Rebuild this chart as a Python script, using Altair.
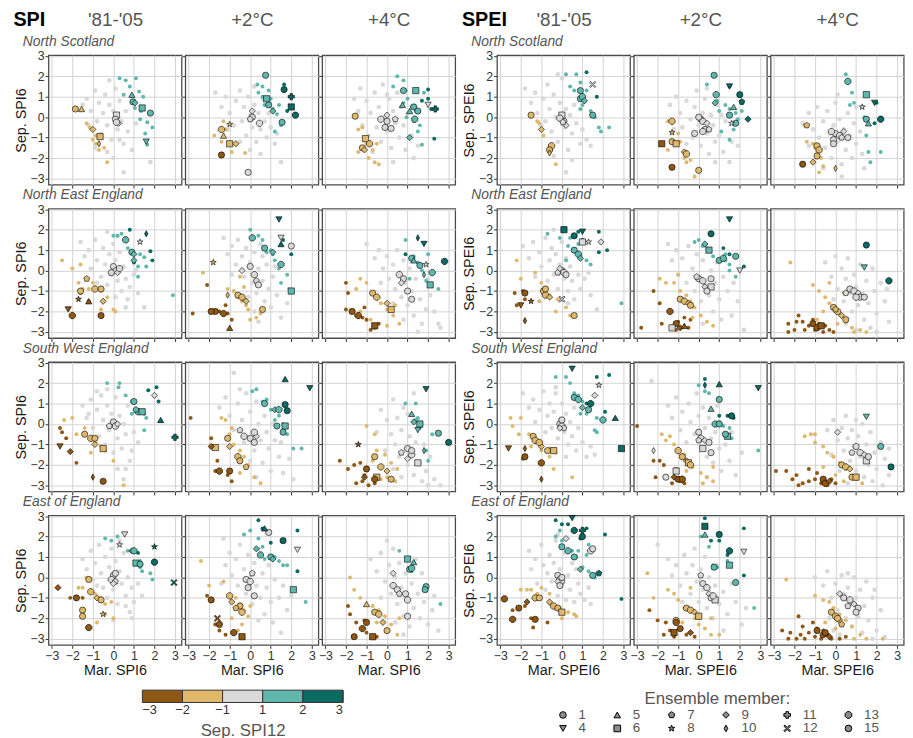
import altair as alt
import pandas as pd

# ---------------- labels / categories ----------------
BLOCKS = ["SPI", "SPEI"]
PERIODS = ["'81-'05", "+2°C", "+4°C"]
REGIONS = ["North Scotland", "North East England", "South West England", "East of England"]
REG_CODES = ["NS", "NEE", "SWE", "EE"]
PER_CODES = ["HIST", "P2", "P4"]
CAT_KEYS = {"B": 0, "T": 1, "G": 2, "L": 3, "D": 4}   # Sep. SPI12 class
CAT_COLORS = ["#8f5714", "#dfb86c", "#d9d9d9", "#5fb7ad", "#0b6b63"]
CAT_EDGES = ["−3", "−2", "−1", "1", "2", "3"]
AXIS_TICKS = [-3, -2, -1, 0, 1, 2, 3]
MEMBER_ORDER = ["1", "4", "5", "6", "7", "8", "9", "10", "11", "12", "13", "15"]

# ---------------- data: dots (x=Mar. index, y=Sep. index) and member markers (member, class, x, y) ----------------
SPI_NS_HIST_DOTS = {
    "G": [(-1.5,0.6),(-1.3,0.9),(-1.1,0.3),(-0.9,1.3),(-0.8,-0.2),(-0.7,0.7),(-0.6,-0.8),(-0.5,0.2),(-0.4,1.1),(-0.3,-0.4),(-0.2,0.6),(-0.1,-1.1),(0.0,0.3),(0.1,1.4),(0.2,-0.6),(0.3,0.8),(0.4,-0.2),(0.5,-1.3),(0.6,0.3),(0.7,-0.7),(0.9,-1.6),(-0.3,-1.7),(0.0,-2.0),(0.3,-1.1),(-0.9,-1.5),(0.5,-2.7),(1.8,-2.2),(-0.2,1.8),(1.1,-0.3),(-1.2,-0.4)],
    "T": [(-1.3,-0.3),(-1.15,-0.5),(-0.85,-0.9),(-0.85,-1.3),(-0.7,-1.6),(-0.45,-1.5),(-0.3,-2.2),(-1.0,-1.1)],
    "L": [(0.3,1.9),(0.6,1.8),(1.1,1.9),(0.8,1.5),(1.25,1.25),(0.5,1.1),(1.05,0.45),(1.35,0.3),(1.3,-0.1),(1.65,-0.25),(1.9,-0.5),(1.55,-0.8),(1.65,-1.35),(1.45,1.0)],
}
SPI_NS_HIST_MARKS = [(1,1,-1.85,0.4),(5,1,-1.55,0.4),(9,1,-1.0,-0.6),(6,1,-0.65,-0.95),(10,1,-0.7,-1.3),(6,2,0.15,0.1),(9,2,0.25,-0.3),(1,2,0.1,-0.1),(13,2,0.15,-0.25),(5,3,0.9,1.1),(1,3,0.95,0.75),(9,3,1.05,0.7),(6,3,1.4,0.45),(15,3,1.8,0.2),(4,3,1.6,-1.2)]

SPI_NS_P2_DOTS = {
    "G": [(-1.7,1.2),(-1.4,0.5),(-1.2,1.0),(-1.0,0.2),(-0.8,-0.4),(-0.7,0.8),(-0.5,1.3),(-0.4,-0.2),(-0.3,0.5),(-0.2,-0.9),(-0.1,1.0),(0.0,0.1),(0.1,-0.5),(0.2,0.6),(0.3,-1.2),(0.4,0.2),(0.5,-0.6),(0.6,0.9),(0.7,-0.2),(0.8,-1.0),(1.0,-0.5),(1.2,-1.3),(-0.5,-1.2),(0.0,-1.6),(1.5,-2.2),(0.9,0.2),(-1.1,-0.6),(0.2,1.5),(0.5,-1.8),(1.3,-0.8)],
    "T": [(-1.75,-0.9),(-1.3,-0.2),(-1.2,-0.6),(-1.4,-1.2),(-1.0,-1.3),(-0.9,-1.7),(-0.25,-1.75),(-0.7,-1.3)],
    "L": [(0.35,1.6),(0.6,1.5),(0.9,1.3),(0.4,1.2),(1.0,0.9),(0.7,0.6),(1.4,0.6),(1.3,0.15),(1.5,-0.4),(1.2,-0.7),(0.6,1.0),(1.1,0.4)],
    "D": [(1.65,1.6),(2.0,1.0),(2.2,0.1),(1.8,0.3)],
}
SPI_NS_P2_MARKS = [(1,3,0.75,2.05),(1,0,-1.4,-1.85),(15,2,-0.1,-2.7),(8,1,-1.0,-0.35),(13,1,-1.4,-0.6),(5,1,-1.3,-0.9),(6,1,-1.0,-1.3),(9,1,-0.7,-1.3),(9,2,0.1,0.3),(1,2,0.1,0.0),(7,2,0.0,-0.1),(13,2,0.45,-0.3),(6,3,0.8,0.9),(1,3,0.9,0.6),(9,3,1.1,0.3),(15,3,1.55,-0.25),(1,4,1.65,1.35),(11,4,2.0,1.0),(6,4,2.0,0.5),(13,4,2.2,0.1)]

SPI_NS_P4_DOTS = {
    "G": [(-1.6,0.9),(-1.4,0.3),(-1.2,-0.4),(-1.0,0.8),(-0.9,-0.9),(-0.8,0.2),(-0.6,1.2),(-0.5,-0.5),(-0.4,0.5),(-0.3,-1.2),(-0.2,1.6),(-0.1,0.0),(0.0,-0.7),(0.1,0.9),(0.2,-1.5),(0.3,0.3),(0.4,-0.3),(0.5,1.2),(0.6,-1.0),(0.7,0.5),(0.8,-0.4),(0.9,-1.6),(1.0,0.2),(1.2,-0.9),(1.3,-2.0),(-0.7,-1.7),(0.3,-2.2),(1.5,-1.4),(-1.3,1.4),(0.0,1.1)],
    "T": [(-1.4,-0.6),(-1.2,-0.5),(-1.0,-1.3),(-0.7,-1.6),(-0.5,-1.3),(-0.9,-2.0),(-0.6,-2.2),(-0.4,-2.3),(-1.4,-1.7)],
    "L": [(0.5,2.0),(0.8,1.8),(0.3,1.5),(0.9,1.3),(1.0,0.9),(0.8,0.7),(1.2,0.5),(1.4,0.3),(0.95,0.0),(1.3,-0.2),(1.6,-0.4),(1.5,-0.7),(1.7,-1.35),(1.8,1.2)],
    "D": [(2.0,1.35),(2.0,0.9),(2.15,0.4),(2.3,-1.05),(1.7,0.8)],
}
SPI_NS_P4_MARKS = [(1,1,-1.55,0.05),(6,1,-1.05,-1.05),(13,1,-0.85,-1.3),(1,1,-1.2,-1.5),(9,1,-1.1,-1.6),(13,2,-0.3,-0.1),(1,2,0.0,-0.2),(15,2,-0.1,-0.5),(1,2,0.2,-0.55),(7,2,0.4,-0.1),(9,2,0.0,0.1),(6,3,1.4,1.3),(1,3,0.8,1.3),(5,3,0.75,0.6),(1,3,1.3,0.5),(5,3,1.1,0.3),(15,3,1.5,0.3),(13,3,1.35,-0.1),(9,3,1.1,-1.0),(4,2,2.0,0.6),(11,4,2.35,0.4)]

SPI_NEE_HIST_DOTS = {
    "G": [(-1.6,1.4),(-1.4,0.7),(-1.2,1.0),(-1.1,0.1),(-0.9,1.5),(-0.8,0.5),(-0.6,-0.3),(-0.5,1.1),(-0.4,0.3),(-0.3,-0.7),(-0.2,0.8),(-0.1,-0.2),(0.0,1.3),(0.1,0.5),(0.2,-0.5),(0.3,0.9),(0.4,-1.0),(0.5,0.2),(0.6,-0.4),(0.7,-1.4),(0.8,-0.8),(1.0,-0.2),(1.2,-1.1),(1.5,-1.8),(0.6,-1.8),(-0.8,-0.6),(0.2,1.7),(-0.3,1.9),(1.1,0.0),(0.1,-1.3)],
    "T": [(-2.5,0.5),(-2.0,0.1),(-1.6,0.3),(-1.7,-0.6),(-1.5,-0.9),(-1.2,-0.9),(-1.0,-0.6),(-0.6,-1.0),(-0.5,-1.5),(-0.3,-1.3),(0.0,-1.9),(-0.6,-1.9),(0.1,-2.0)],
    "B": [(-1.6,-1.1),(-1.2,-1.5)],
    "L": [(0.0,1.7),(0.2,1.7),(0.4,1.8),(0.6,1.6),(1.3,0.8),(1.2,0.2),(1.6,0.2),(1.5,0.65),(0.7,1.1),(1.2,-0.3),(2.9,-1.2)],
    "D": [(0.8,2.0),(1.8,0.95),(1.9,0.5),(1.0,0.4)],
}
SPI_NEE_HIST_MARKS = [(4,0,-2.2,-1.9),(13,0,-2.0,-2.2),(8,0,-1.7,-1.4),(5,0,-1.2,-1.5),(1,0,-0.6,-2.2),(1,1,-1.6,-1.0),(7,1,-1.3,-0.4),(13,1,-0.9,-0.9),(1,1,-0.6,-0.9),(9,1,-0.5,-1.5),(1,2,0.0,0.2),(7,2,0.1,0.0),(9,2,0.2,-0.1),(13,2,0.3,0.1),(15,2,-0.1,-0.1),(1,3,0.9,0.9),(9,3,1.0,0.8),(13,3,0.6,1.5),(8,2,1.3,1.4),(9,3,1.0,0.5),(10,4,1.6,1.8)]

SPI_NEE_P2_DOTS = {
    "G": [(-1.3,1.6),(-1.1,0.8),(-0.9,1.2),(-0.7,0.3),(-0.6,1.5),(-0.4,0.7),(-0.3,-0.3),(-0.2,1.1),(0.0,0.4),(0.1,-0.6),(0.2,0.9),(0.3,-1.1),(0.4,0.1),(0.5,1.3),(0.6,-0.5),(0.7,-1.5),(0.8,0.3),(0.9,-0.9),(1.0,-1.8),(1.1,-0.3),(1.3,-1.2),(1.5,-2.3),(1.8,-1.6),(0.2,-2.0),(-0.9,-0.2),(0.6,0.7),(1.2,0.2),(-0.1,-1.3),(1.9,-0.9),(0.4,-2.5)],
    "T": [(-2.3,-0.1),(-1.1,-0.9),(-0.8,-1.0),(-0.6,-1.3),(-0.4,-1.5),(-0.1,-1.9),(0.0,-2.4),(0.3,-2.3),(-0.5,-0.3),(-0.3,-0.8),(-0.2,-1.7),(0.5,-2.1)],
    "B": [(-2.1,-0.7),(-2.8,-2.1),(-1.5,-2.0),(-1.2,-1.7),(-0.9,-2.4),(-1.1,-2.1)],
    "L": [(0.0,2.0),(0.4,1.7),(0.6,1.5),(1.0,1.0),(0.8,0.9),(1.2,0.5),(1.4,0.1),(1.5,-0.6),(1.8,-0.2),(1.1,0.8)],
    "D": [(1.6,1.5),(2.0,0.8)],
}
SPI_NEE_P2_MARKS = [(8,1,-1.8,0.4),(10,1,-1.1,-1.2),(1,1,-0.6,-1.2),(13,1,-0.4,-1.3),(9,1,-0.2,-1.5),(1,1,0.6,-1.9),(1,0,-1.7,-2.0),(5,0,-1.0,-2.8),(13,0,-1.3,-2.1),(1,0,-1.9,-2.0),(9,2,-0.4,0.0),(1,2,0.0,0.2),(13,2,0.2,-0.2),(7,2,0.3,-0.5),(1,2,0.4,-0.7),(13,3,0.1,1.6),(1,3,0.7,1.1),(9,3,1.1,0.9),(13,3,1.5,0.3),(6,3,2.0,-1.0),(15,2,2.0,1.2),(4,4,1.4,2.5),(4,2,1.5,1.6),(5,4,1.5,1.3)]

SPI_NEE_P4_DOTS = {
    "G": [(-1.0,1.3),(-0.6,0.6),(-0.4,1.0),(-0.2,0.1),(0.0,0.7),(0.1,-0.4),(0.3,0.3),(0.4,-0.9),(0.5,1.0),(0.6,-0.1),(0.7,-1.3),(0.8,0.5),(0.9,-0.6),(1.0,-1.7),(1.1,0.1),(1.2,-1.0),(1.3,-2.2),(1.4,-0.4),(1.6,-1.4),(1.7,-2.6),(1.9,-1.9),(2.1,-1.2),(2.3,-2.0),(2.5,-2.6),(0.3,-1.6),(0.8,-2.4),(1.5,-3.0),(2.6,-2.8),(-0.3,-0.6),(2.0,-0.4)],
    "T": [(-1.3,-0.4),(-1.0,-0.6),(-0.7,-1.1),(-0.5,-1.3),(-0.3,-1.6),(0.0,-1.9),(0.3,-2.2),(0.6,-2.6),(-0.8,-2.4),(-1.3,-2.0),(0.0,-2.7),(-1.5,-0.9),(0.4,-1.7)],
    "B": [(-2.0,-0.6),(-1.9,-1.1),(-2.0,-1.9),(-1.5,-2.2),(-1.2,-2.3),(-1.0,-2.4),(-0.6,-2.8),(-0.4,-2.6),(-1.1,-1.8),(-0.8,-2.9)],
    "L": [(0.9,1.5),(1.3,0.7),(1.5,0.4),(1.7,0.0),(1.9,-0.5),(2.5,-0.9),(2.0,0.8),(1.1,-0.4)],
    "D": [(0.9,0.8)],
}
SPI_NEE_P4_MARKS = [(1,1,-0.7,-1.1),(13,1,-0.5,-1.3),(9,1,0.0,-1.6),(6,1,0.2,-1.9),(1,0,-1.7,-2.0),(13,0,-1.4,-2.2),(6,0,-0.6,-2.7),(13,2,0.6,-0.2),(1,2,0.8,-0.4),(9,2,0.7,-0.6),(1,2,1.0,-1.0),(15,2,1.2,-1.4),(1,3,1.2,0.6),(5,3,1.3,0.5),(1,3,1.6,0.25),(10,3,1.8,-0.2),(6,3,2.1,-0.7),(13,3,2.2,-0.1),(8,2,1.9,0.3),(10,4,1.5,1.6),(4,4,1.8,1.3),(13,4,2.8,0.45)]

SPI_SWE_HIST_DOTS = {
    "G": [(-1.5,0.9),(-1.3,0.3),(-1.1,1.2),(-1.0,-0.2),(-0.8,0.7),(-0.7,-0.6),(-0.6,1.4),(-0.5,0.2),(-0.4,-1.0),(-0.3,0.9),(-0.2,-0.3),(-0.1,0.5),(0.0,-1.4),(0.1,1.3),(0.2,-0.7),(0.3,0.4),(0.4,-1.2),(0.5,0.0),(0.6,-0.5),(0.7,0.9),(0.8,-1.8),(0.9,-1.3),(1.0,-0.4),(-0.8,1.6),(0.2,-2.2),(0.5,-2.7),(-0.3,1.7),(1.2,-0.9),(-1.2,0.5),(0.6,-2.2)],
    "T": [(-2.4,0.2),(-2.0,0.3),(-1.8,-0.5),(-1.4,-0.2),(-0.9,-0.9),(-0.6,-1.1),(-0.4,-1.3),(-1.1,-1.4),(0.0,-1.8),(0.5,-3.0)],
    "B": [(-2.6,-0.2),(-2.5,-0.4),(-2.3,-0.7),(-1.8,-1.9)],
    "L": [(-0.3,2.0),(0.3,2.0),(0.25,1.8),(0.6,1.4),(0.9,1.1),(1.5,0.5),(1.6,0.3),(1.5,-0.3),(0.9,0.5)],
    "D": [(1.7,1.65),(2.1,1.8),(2.2,1.1)],
}
SPI_SWE_HIST_MARKS = [(1,1,-1.4,-0.5),(13,1,-1.1,-0.7),(9,1,-0.9,-1.0),(6,1,-0.5,-1.2),(1,1,-0.9,-0.7),(9,0,-2.1,-1.35),(4,0,-2.6,-1.1),(10,0,-1.0,-2.6),(1,0,-0.5,-2.8),(1,2,0.0,0.1),(13,2,0.1,-0.1),(7,2,-0.2,-0.1),(9,2,0.2,0.0),(1,3,1.0,1.1),(13,3,1.2,0.6),(6,3,1.4,0.6),(7,3,1.1,0.7),(9,2,2.0,1.4),(5,4,2.3,0.2),(11,4,3.0,-0.65)]

SPI_SWE_P2_DOTS = {
    "G": [(-0.8,2.5),(-1.5,0.8),(-1.2,1.3),(-1.0,0.4),(-0.8,-0.3),(-0.6,1.0),(-0.4,0.2),(-0.3,-0.9),(-0.2,1.5),(0.0,0.6),(0.1,-0.4),(0.2,-1.3),(0.3,1.1),(0.4,0.0),(0.5,-0.8),(0.6,-1.9),(0.7,0.4),(0.8,-0.4),(0.9,-1.2),(1.0,-2.3),(1.1,0.0),(1.2,-0.8),(1.4,-1.6),(1.6,-2.4),(1.9,-1.7),(2.1,-2.7),(0.3,-2.6),(-0.5,1.7),(1.5,-0.9),(0.0,-1.8)],
    "T": [(-0.9,-0.2),(-1.4,0.3),(-1.0,-0.5),(-0.8,-1.0),(-0.5,-1.3),(-0.3,-1.6),(-0.1,-2.0),(0.2,-2.6),(0.5,-2.9),(-0.5,-2.4),(-1.2,0.2)],
    "B": [(-2.9,0.3),(-1.9,-0.7),(-1.6,-1.8),(-1.7,-2.3),(-1.1,-2.5),(-0.9,-2.8)],
    "L": [(0.1,1.6),(0.3,1.7),(0.8,1.2),(0.6,1.1),(1.0,0.7),(1.4,0.4),(1.6,0.0),(1.8,-0.5),(2.1,-1.2),(2.5,-1.2),(1.2,0.2)],
    "D": [(1.7,0.95),(1.8,0.65)],
}
SPI_SWE_P2_MARKS = [(13,2,-0.3,-0.6),(1,2,0.0,-0.7),(15,2,0.2,-0.9),(9,2,0.3,-0.6),(7,2,-0.5,-0.3),(13,2,0.2,-0.4),(1,1,-1.1,-0.7),(9,1,-1.0,-1.1),(13,1,-0.6,-1.6),(1,1,-0.5,-1.8),(6,1,-1.7,-1.15),(7,1,-0.2,-2.1),(9,0,-1.9,-1.1),(1,0,-1.0,-2.3),(13,0,-1.5,-2.3),(1,3,0.7,1.0),(9,3,1.2,0.7),(13,3,1.4,0.7),(1,3,1.3,-0.1),(6,3,1.7,-0.1),(15,3,1.6,-0.4),(5,4,1.7,2.2),(4,4,2.9,1.75),(1,4,1.7,0.95),(15,4,1.8,0.65)]

SPI_SWE_P4_DOTS = {
    "G": [(-0.3,0.7),(0.0,0.2),(0.2,-0.5),(0.3,1.2),(0.4,-1.0),(0.5,0.3),(0.6,-1.6),(0.7,-0.3),(0.8,0.8),(0.9,-1.2),(1.0,-2.0),(1.1,-0.6),(1.2,-1.5),(1.3,-2.5),(1.4,-0.9),(1.5,0.2),(1.6,-1.9),(1.7,-2.8),(1.9,-2.3),(2.1,-1.6),(2.3,-2.7),(2.6,-3.0),(0.3,-2.2),(0.7,-2.6),(-0.5,-0.4),(1.0,0.5),(2.0,-3.0),(1.8,-1.0),(-0.1,-1.3),(1.3,1.5)],
    "T": [(-1.0,-0.1),(-0.6,-0.5),(-0.5,-1.3),(-0.1,-1.5),(0.2,-1.9),(0.5,-2.2),(0.0,-2.6),(-0.3,-2.7),(0.4,-2.8),(-0.7,-1.8)],
    "B": [(-2.3,-1.8),(-1.9,-2.2),(-1.6,-2.0),(-1.3,-1.9),(-1.2,-2.8),(-0.9,-3.0),(-0.6,-2.9),(-1.1,-2.5),(-0.5,-2.6),(-1.5,-2.9)],
    "L": [(0.9,1.0),(1.4,1.0),(1.5,0.3),(1.6,-0.2),(1.9,-1.3),(2.0,-1.8),(2.2,-0.5),(1.4,0.2)],
}
SPI_SWE_P4_MARKS = [(1,2,1.0,-1.2),(13,2,1.2,-1.5),(9,2,1.0,-1.7),(6,2,1.5,-1.9),(1,2,1.2,-1.3),(7,2,0.7,-1.4),(1,1,-0.6,-1.6),(13,1,-0.3,-2.1),(9,1,0.0,-2.3),(1,1,0.2,-2.7),(6,1,-0.5,-2.6),(8,0,-1.4,-1.0),(1,0,-1.0,-2.2),(9,0,-1.1,-2.6),(13,0,-0.6,-2.7),(5,3,1.2,0.5),(9,3,1.3,0.1),(6,3,1.6,0.0),(4,3,1.5,-0.3),(1,3,2.5,-0.45),(10,3,1.8,-1.3),(4,4,1.9,1.7),(1,4,3.0,-0.9)]

SPI_EE_HIST_DOTS = {
    "G": [(-1.5,0.9),(-1.3,0.4),(-1.1,1.3),(-1.0,-0.1),(-0.9,0.7),(-0.7,1.6),(-0.6,0.2),(-0.5,-0.5),(-0.4,1.0),(-0.3,-1.0),(-0.2,0.5),(-0.1,1.4),(0.0,-0.6),(0.1,0.8),(0.2,-1.3),(0.3,0.3),(0.4,-0.3),(0.5,1.2),(0.6,-0.9),(0.7,0.0),(0.8,-1.7),(0.9,-0.5),(1.0,-1.2),(1.2,-0.3),(0.0,-2.1),(0.9,-2.0),(-0.8,-0.4),(0.3,1.8),(1.4,-0.9),(0.6,-1.4)],
    "T": [(-1.3,0.0),(-1.5,-0.5),(-0.9,-0.8),(-0.6,-1.0),(-0.4,-1.3),(-0.4,-1.8),(-0.8,-2.2),(-0.1,-1.2),(-1.7,-0.5),(0.0,-2.0)],
    "B": [(-2.1,-1.0),(-1.5,-1.0)],
    "L": [(-0.4,1.9),(-0.1,1.8),(0.2,2.0),(0.7,1.3),(1.3,0.8),(1.3,0.5),(1.8,0.2),(1.9,-0.1),(1.4,0.3)],
    "D": [(1.2,1.2)],
}
SPI_EE_HIST_MARKS = [(1,1,-1.2,-0.1),(13,1,-1.1,-0.7),(9,1,-0.8,-1.0),(1,1,-0.6,-1.1),(8,1,-0.5,-1.8),(15,1,-1.5,-1.6),(1,1,-1.5,-1.9),(9,0,-2.7,-0.5),(1,0,-1.8,-1.0),(13,0,-1.2,-2.45),(1,2,0.0,0.1),(13,2,-0.1,-0.1),(7,2,0.1,-0.2),(1,2,0.1,0.2),(9,2,0.0,-0.3),(9,3,0.9,1.3),(13,3,1.0,1.3),(6,3,1.1,0.7),(1,3,1.3,0.65),(4,2,0.55,2.1),(8,2,0.3,1.6),(8,4,2.0,1.5),(13,4,2.0,0.75),(12,4,2.95,-0.25)]

SPI_EE_P2_DOTS = {
    "G": [(-1.3,1.9),(-1.2,0.6),(-1.0,1.2),(-0.9,0.1),(-0.7,0.9),(-0.6,-0.4),(-0.5,1.6),(-0.3,0.4),(-0.2,-0.8),(-0.1,1.1),(0.0,0.0),(0.1,-1.3),(0.2,0.7),(0.3,-0.4),(0.4,1.4),(0.5,-1.0),(0.6,0.2),(0.7,-1.8),(0.8,-0.5),(0.9,0.6),(1.0,-1.2),(1.2,-0.1),(1.4,-1.0),(1.6,-0.4),(1.8,-1.6),(1.5,-2.7),(-1.4,-0.3),(0.4,-2.1),(1.1,-2.2),(2.0,-0.9)],
    "T": [(-2.4,0.8),(-2.0,-0.4),(-1.3,-0.2),(-0.7,-1.0),(-0.5,-1.3),(-0.3,-1.6),(-0.1,-1.9),(-0.4,-2.3),(-0.9,-2.0),(0.0,-1.4),(-0.6,-2.6)],
    "B": [(-2.1,-0.9),(-1.5,-2.6),(-1.2,-2.8),(-1.7,-2.3)],
    "L": [(-0.3,2.1),(0.0,2.3),(0.4,1.9),(0.6,1.5),(1.2,1.0),(1.4,0.8),(1.6,0.6),(1.8,0.6),(2.7,-1.2),(0.7,0.9)],
    "D": [(0.4,2.8),(1.0,1.7),(0.6,2.4),(2.3,2.3),(2.3,0.3)],
}
SPI_EE_P2_MARKS = [(1,2,-0.2,-0.1),(13,2,0.0,-0.2),(7,2,0.1,0.2),(1,2,-0.1,-0.5),(15,2,0.2,-0.9),(13,1,-1.0,-0.9),(9,1,-0.9,-1.2),(1,1,-0.5,-1.4),(13,1,-0.4,-1.7),(7,1,-0.7,-1.5),(1,0,-1.9,-1.1),(12,0,-1.6,-2.0),(1,0,-1.5,-2.3),(13,0,-0.8,-2.7),(6,0,-0.4,-2.9),(9,3,0.3,1.4),(13,3,0.5,1.1),(1,3,1.0,1.0),(9,3,1.1,0.9),(15,2,0.9,2.2),(6,3,2.1,-0.6),(5,4,0.7,2.4),(1,4,1.6,1.8),(4,2,2.3,1.35)]

SPI_EE_P4_DOTS = {
    "G": [(-0.8,0.9),(-0.5,0.3),(-0.3,1.2),(-0.1,-0.2),(0.1,0.6),(0.2,-0.8),(0.3,1.4),(0.4,0.0),(0.5,-1.3),(0.6,0.7),(0.7,-0.5),(0.8,-1.9),(0.9,0.2),(1.0,-1.0),(1.1,-2.4),(1.2,-0.3),(1.3,-1.5),(1.4,0.9),(1.5,-0.8),(1.6,-2.0),(1.8,-1.2),(2.0,-2.3),(2.2,-1.6),(2.5,-2.6),(0.4,-2.2),(-0.3,-1.0),(0.8,-2.8),(1.7,0.2),(0.0,1.8),(2.3,-0.9)],
    "T": [(-1.8,0.0),(-1.6,-0.6),(-1.3,-1.0),(-0.7,-1.4),(-0.4,-1.6),(-0.1,-1.9),(0.2,-2.3),(0.5,-2.8),(0.0,-2.6),(-0.5,-2.2),(0.6,-2.0)],
    "B": [(-1.9,-1.4),(-1.8,-1.8),(-1.5,-2.2),(-1.0,-2.7),(-0.5,-2.9),(-1.1,-2.1)],
    "L": [(0.6,1.3),(1.0,0.9),(1.1,0.4),(1.3,0.7),(1.8,-0.6),(2.6,-1.3),(1.2,0.3)],
}
SPI_EE_P4_MARKS = [(13,2,0.3,-0.4),(1,2,0.5,-0.6),(7,2,0.6,-0.8),(13,2,1.0,-1.1),(1,2,1.0,-1.9),(15,2,0.9,-0.8),(9,2,0.3,0.2),(5,1,-1.0,-1.3),(1,1,-0.6,-1.7),(13,1,-0.4,-1.8),(9,1,-0.2,-2.2),(1,1,0.0,-2.6),(1,0,-1.0,-2.2),(6,0,-0.7,-2.9),(13,0,-1.2,-2.5),(1,0,-1.6,-2.9),(6,3,1.0,0.9),(1,3,1.1,0.4),(13,3,1.2,0.45),(5,3,1.3,0.75),(1,3,1.9,-0.45),(15,3,1.85,-0.6)]

SPEI_NS_HIST_DOTS = {
    "G": [(-1.8,1.4),(-1.5,0.7),(-1.3,1.2),(-1.2,0.2),(-1.0,-0.4),(-0.9,0.9),(-0.7,1.6),(-0.6,0.4),(-0.5,-0.7),(-0.4,1.1),(-0.3,0.0),(-0.2,-1.2),(-0.1,0.7),(0.0,1.9),(0.1,-0.5),(0.2,0.4),(0.3,-1.6),(0.4,0.1),(0.5,-0.8),(0.6,0.6),(0.7,-0.3),(0.9,-1.3),(1.0,-0.6),(1.2,-1.1),(-0.4,-1.9),(0.2,-2.7),(1.4,-1.4),(-0.8,-0.2),(0.5,-2.1),(-0.2,2.1)],
    "T": [(-1.1,-0.3),(-1.0,-0.6),(-0.9,-0.9),(-0.6,-1.4),(-0.5,-1.6),(-0.3,-2.3),(-1.2,-0.2)],
    "L": [(0.2,2.1),(0.7,2.1),(0.9,1.7),(0.4,1.5),(0.6,1.3),(1.2,1.3),(1.0,0.6),(1.4,0.3),(1.6,0.0),(2.3,-0.5),(1.8,-0.5),(1.9,-0.7),(0.9,0.4)],
    "D": [(1.2,2.2),(1.7,1.0)],
}
SPEI_NS_HIST_MARKS = [(1,1,-1.5,0.1),(9,1,-1.0,-0.6),(13,1,-0.5,-1.4),(1,1,-0.6,-1.6),(10,1,-0.6,-1.75),(6,2,0.0,0.1),(1,2,0.1,-0.2),(9,2,0.2,-0.4),(13,2,-0.1,-0.05),(7,2,0.05,-0.25),(1,3,0.9,0.9),(13,3,1.0,1.0),(9,3,1.1,0.8),(1,3,1.5,0.1),(15,3,0.9,1.3),(12,2,1.5,1.6)]

SPEI_NS_P2_DOTS = {
    "G": [(-1.4,0.6),(-1.1,1.0),(-0.9,0.2),(-0.8,-0.5),(-0.6,0.8),(-0.4,-0.1),(-0.3,-1.0),(-0.2,0.5),(-0.1,1.3),(0.0,-0.4),(0.1,-1.4),(0.2,0.2),(0.3,0.9),(0.4,-0.8),(0.5,-1.8),(0.6,0.1),(0.7,-0.4),(0.8,-1.2),(0.9,0.6),(1.0,-0.9),(1.2,-1.7),(1.3,-0.2),(1.6,-1.2),(1.9,-1.4),(0.8,-2.2),(-0.6,-1.3),(1.5,-2.2),(-1.2,-0.6),(0.4,1.4),(1.1,0.1)],
    "T": [(-1.5,-0.2),(-1.0,-0.8),(-1.2,-1.2),(-1.5,-1.6),(-0.9,-1.2),(-0.6,-1.7),(-0.4,-2.1),(-0.6,-2.2),(-0.2,-2.9),(-0.7,-2.0)],
    "L": [(0.4,1.6),(0.9,0.8),(1.0,0.3),(1.3,0.6),(1.5,0.4),(1.8,0.2),(1.9,-0.1),(1.7,-0.6),(1.5,-1.1),(1.1,-0.7),(2.1,0.3)],
    "D": [(1.5,1.5),(2.1,0.7)],
}
SPEI_NS_P2_MARKS = [(1,2,0.1,-0.1),(13,2,0.2,-0.2),(9,2,0.4,-0.3),(1,2,0.3,-0.6),(7,2,0.5,-0.6),(13,2,0.2,-0.7),(15,2,0.0,0.0),(1,2,-0.2,-0.8),(13,1,-1.3,-0.2),(8,1,-1.3,-0.75),(1,1,-1.3,-1.2),(6,1,-1.1,-1.3),(9,1,-0.7,-1.7),(13,1,-0.6,-1.8),(1,1,0.0,-2.6),(6,0,-1.8,-1.3),(1,0,-1.3,-2.45),(1,3,0.75,2.05),(13,3,0.85,1.1),(9,3,0.8,0.7),(1,3,1.5,0.1),(5,3,1.7,0.5),(15,3,1.8,-0.3),(8,2,1.6,-0.3),(4,4,1.5,1.5),(1,4,2.0,1.1),(7,4,2.1,0.75),(9,4,2.4,-0.1)]

SPEI_NS_P4_DOTS = {
    "G": [(-1.6,-0.3),(-1.3,0.2),(-1.1,-0.6),(-0.9,0.5),(-0.8,-1.0),(-0.6,-0.2),(-0.5,-1.5),(-0.4,0.3),(-0.3,-0.8),(-0.2,-2.0),(-0.1,-0.4),(0.0,0.7),(0.1,-1.2),(0.2,-0.1),(0.3,-2.3),(0.4,-0.6),(0.5,-1.6),(0.6,0.2),(0.7,-0.9),(0.8,-2.0),(0.9,-0.3),(1.0,-1.3),(1.2,-0.7),(1.3,-1.8),(0.3,-2.9),(-0.6,-2.5),(1.4,-2.5),(0.1,1.1),(-1.3,-1.4),(1.0,0.5)],
    "T": [(-1.4,-1.2),(-1.0,-1.5),(-0.9,-1.8),(-0.7,-2.0),(-0.6,-2.4),(-0.8,-2.7),(-1.1,-1.3),(-1.5,-0.4)],
    "L": [(0.5,2.1),(0.8,1.2),(0.9,0.7),(0.7,0.6),(1.3,0.5),(1.4,0.0),(1.5,-0.9),(1.6,-1.7),(1.7,-2.2),(2.2,-1.7)],
    "D": [(2.0,0.7),(1.9,-0.3)],
}
SPEI_NS_P4_MARKS = [(1,2,0.0,-0.8),(13,2,0.2,-0.9),(9,2,0.4,-0.7),(1,2,-0.1,-1.1),(7,2,0.3,-1.0),(13,2,-0.2,-0.7),(15,2,0.6,-1.0),(1,2,-0.1,-1.3),(7,1,-1.4,-0.4),(1,1,-0.9,-1.4),(13,1,-0.8,-1.6),(1,1,-0.9,-1.9),(9,1,-1.1,-2.2),(10,1,0.0,-2.5),(1,0,-1.6,-2.3),(13,3,0.6,1.75),(6,3,1.5,1.1),(1,3,1.5,-0.1),(5,3,1.6,-0.3),(8,2,1.3,0.5),(4,4,1.9,0.7),(13,4,2.2,-0.1)]

SPEI_NEE_HIST_DOTS = {
    "G": [(-1.9,1.2),(-1.6,0.6),(-1.4,1.4),(-1.3,-0.3),(-1.1,0.9),(-1.0,0.2),(-0.8,1.6),(-0.7,-0.5),(-0.6,0.5),(-0.5,1.1),(-0.4,-0.2),(-0.3,0.8),(-0.2,-0.9),(-0.1,0.3),(0.0,1.4),(0.1,-0.4),(0.2,0.6),(0.3,-1.0),(0.4,0.2),(0.5,-0.5),(0.6,-1.4),(0.8,-0.2),(0.9,-0.9),(1.1,-0.4),(1.4,-1.2),(1.7,-1.9),(0.3,-1.6),(-0.9,-1.0),(-0.4,2.0),(1.3,-0.1)],
    "T": [(-2.2,0.5),(-2.0,-0.4),(-1.3,-0.1),(-1.0,-0.6),(-0.9,-1.0),(-0.6,-1.2),(-0.2,-1.4),(-0.3,-2.0),(0.4,-2.2),(-1.1,-1.5),(0.2,-1.8)],
    "B": [(-2.3,-1.1),(-1.9,-1.0),(-1.8,-1.4),(-2.2,-1.7)],
    "L": [(-0.7,1.8),(-0.1,1.6),(0.3,1.2),(0.6,1.0),(0.9,0.6),(1.2,0.5),(1.4,0.3),(0.2,0.5),(0.8,1.3),(2.9,-1.6),(0.4,1.6)],
    "D": [(0.8,1.9),(1.8,1.9),(2.2,1.0),(1.8,0.9),(1.0,1.5)],
}
SPEI_NEE_HIST_MARKS = [(1,2,0.0,0.0),(13,2,0.1,-0.1),(7,2,-0.2,-0.1),(1,2,0.2,-0.2),(9,2,-0.1,0.1),(1,1,-0.9,-1.0),(13,1,-0.8,-1.2),(9,1,-0.6,-1.3),(1,1,-0.8,-0.9),(12,2,0.0,-1.4),(1,1,0.6,-2.2),(1,0,-1.8,-1.1),(4,0,-2.0,-1.7),(8,0,-1.5,-1.5),(10,0,-1.8,-2.45),(1,3,0.6,1.0),(13,3,0.8,0.8),(9,3,0.9,0.6),(8,2,1.3,1.4),(6,2,1.0,1.4),(6,4,0.1,2.0),(1,4,0.6,1.7),(4,4,1.0,1.9),(9,2,1.9,1.4)]

SPEI_NEE_P2_DOTS = {
    "G": [(-1.5,1.3),(-1.3,0.5),(-1.1,1.0),(-1.0,-0.2),(-0.8,0.6),(-0.6,-0.6),(-0.5,1.2),(-0.3,0.1),(-0.2,-1.0),(-0.1,0.8),(0.0,-0.3),(0.1,-1.5),(0.2,0.5),(0.3,-0.7),(0.4,1.1),(0.5,-1.2),(0.6,0.0),(0.7,-2.0),(0.8,-0.6),(0.9,0.4),(1.0,-1.4),(1.2,-0.3),(1.4,-1.0),(1.6,-2.2),(1.9,-1.5),(2.2,-2.9),(1.1,-2.4),(-0.7,-1.4),(1.7,-0.6),(0.2,-2.6)],
    "T": [(-1.9,-0.4),(-1.6,-0.6),(-1.2,-0.6),(-0.9,-1.0),(-0.6,-1.2),(-0.4,-1.5),(-0.2,-1.8),(0.1,-2.2),(0.4,-2.5),(0.7,-2.7),(-0.3,-2.3),(-1.0,-0.2)],
    "B": [(-2.8,-2.8),(-2.2,-1.0),(-1.9,-1.6),(-1.8,-2.6),(-1.0,-2.5),(-0.5,-2.8),(-0.7,-2.3),(-1.1,-2.9),(-0.4,-2.4)],
    "L": [(-0.2,1.4),(0.0,1.5),(0.2,1.2),(0.7,0.7),(1.3,0.5),(1.5,0.3),(1.5,0.0),(1.8,-0.3),(1.3,0.8)],
    "D": [(1.2,1.1),(1.5,0.8),(2.2,0.2)],
}
SPEI_NEE_P2_MARKS = [(1,2,0.0,-0.4),(13,2,0.2,-0.5),(9,2,0.3,-0.8),(1,2,0.6,-0.4),(6,2,0.6,-0.8),(15,2,0.4,-1.0),(7,2,-0.1,-0.3),(1,1,-0.9,-1.4),(13,1,-0.7,-1.5),(9,1,-0.5,-1.6),(1,1,-0.4,-1.7),(13,0,-1.4,-2.0),(1,0,-1.1,-2.6),(9,0,-0.9,-2.8),(5,0,-0.7,-2.7),(6,2,-1.3,-2.8),(9,3,0.3,1.3),(6,3,0.5,1.0),(1,3,1.0,0.5),(13,3,1.2,0.6),(15,3,1.8,0.7),(4,2,2.0,0.0),(1,4,0.6,1.8),(4,4,1.5,2.5)]

SPEI_NEE_P4_DOTS = {
    "G": [(-0.5,0.4),(-0.2,-0.3),(0.0,0.7),(0.1,-0.9),(0.3,0.1),(0.4,-1.5),(0.5,-0.4),(0.6,0.6),(0.7,-1.1),(0.8,-2.0),(0.9,-0.2),(1.0,-0.8),(1.1,-1.7),(1.2,0.3),(1.3,-1.1),(1.4,-2.4),(1.5,-0.5),(1.6,-1.6),(1.7,-2.8),(1.9,-1.0),(2.0,-2.1),(2.2,-0.6),(2.4,-1.5),(2.6,-2.5),(0.5,-2.6),(1.0,-2.9),(2.0,-3.0),(2.5,-0.9),(-0.1,-1.4),(1.8,0.1)],
    "T": [(-1.1,-0.7),(-0.8,-1.0),(-0.5,-1.3),(-0.3,-1.6),(0.0,-1.9),(0.3,-2.2),(0.5,-2.5),(0.8,-2.8),(1.2,-2.9),(1.5,-3.0),(-0.6,-2.0),(0.1,-2.6),(-2.2,0.4),(0.4,-1.1),(-0.3,-0.6),(-0.9,-2.4),(0.9,-3.0)],
    "B": [(-2.3,-2.6),(-2.0,-2.9),(-1.6,-2.5),(-1.3,-2.7),(-1.0,-2.9),(-0.8,-2.6),(-0.6,-3.0),(-0.3,-2.9),(-1.5,-2.9),(-1.1,-2.4),(-0.5,-2.7),(-1.8,-2.2),(-2.3,-3.0),(-1.9,-2.5),(-0.1,-3.0)],
}
SPEI_NEE_P4_MARKS = [(1,2,0.7,-0.9),(13,2,0.9,-1.0),(9,2,1.1,-1.1),(1,2,1.2,-1.3),(15,2,1.4,-1.3),(7,2,0.5,-1.1),(13,2,1.0,-1.3),(1,1,-0.1,-1.8),(13,1,0.1,-2.0),(9,1,0.3,-2.2),(1,1,0.5,-2.4),(7,1,0.0,-1.9),(1,0,-1.1,-2.6),(13,0,-0.9,-2.8),(6,0,-0.7,-2.7),(4,3,1.4,0.15),(1,4,1.5,1.25),(13,4,2.6,-0.5)]

SPEI_SWE_HIST_DOTS = {
    "G": [(-1.9,1.5),(-1.6,0.8),(-1.4,1.2),(-1.3,0.1),(-1.1,0.7),(-0.9,1.6),(-0.8,-0.4),(-0.7,0.4),(-0.6,1.0),(-0.5,-0.2),(-0.4,0.6),(-0.3,1.5),(-0.2,-0.7),(-0.1,0.2),(0.0,1.0),(0.1,-0.4),(0.2,0.5),(0.3,-1.0),(0.4,0.1),(0.5,-0.6),(0.7,-1.3),(0.8,-0.2),(1.0,-0.9),(1.2,-1.6),(1.4,-1.1),(1.6,-1.5),(0.2,-1.6),(-1.0,-0.9),(0.6,0.8),(-0.3,1.8)],
    "T": [(-2.5,0.3),(-2.0,0.3),(-2.4,-0.1),(-2.1,-0.5),(-1.6,-0.5),(-0.6,-1.2),(-0.3,-1.4),(-1.5,-1.1),(-0.6,-1.6),(-0.4,-2.2),(0.5,-2.6),(-1.0,-1.3)],
    "B": [(-1.9,-1.7)],
    "L": [(-0.3,2.3),(0.2,2.3),(0.4,2.0),(0.6,1.3),(0.8,1.4),(1.0,1.1),(0.9,0.5),(1.2,0.5),(1.7,0.3),(1.6,-0.3),(1.7,-0.4),(0.6,1.5)],
    "D": [(1.7,2.3),(2.3,2.4),(2.1,0.6),(1.2,1.0)],
}
SPEI_SWE_HIST_MARKS = [(1,2,-0.1,0.0),(13,2,0.0,-0.1),(7,2,0.1,-0.2),(9,2,-0.1,-0.2),(1,2,0.0,0.2),(1,1,-1.4,-0.6),(13,1,-1.3,-0.8),(9,1,-1.0,-1.1),(1,1,-0.7,-1.3),(6,1,-0.4,-1.3),(13,1,-1.1,-0.9),(10,0,-1.8,-1.2),(1,0,-1.8,-1.6),(13,0,-1.0,-1.9),(10,0,-1.0,-2.7),(4,0,-2.6,-1.2),(1,3,0.6,1.3),(13,3,0.8,1.2),(9,3,1.0,0.8),(1,3,1.3,0.7),(13,3,2.0,0.2),(9,2,1.6,1.4),(8,2,1.8,1.9),(4,4,0.5,2.7),(13,4,1.4,1.0),(5,4,2.6,0.3),(6,4,2.9,-1.2)]

SPEI_SWE_P2_DOTS = {
    "G": [(-2.3,2.1),(-1.5,0.9),(-1.3,0.3),(-1.1,1.3),(-0.9,-0.3),(-0.8,0.6),(-0.6,-0.9),(-0.5,1.0),(-0.4,0.1),(-0.2,-0.5),(-0.1,1.5),(0.0,0.4),(0.1,-1.1),(0.2,0.8),(0.3,-0.2),(0.4,-1.6),(0.5,0.3),(0.6,-0.7),(0.7,-1.9),(0.8,-0.4),(1.0,-1.2),(1.1,-2.3),(1.3,-1.0),(1.5,-1.8),(1.8,-2.5),(2.1,-1.4),(0.9,0.9),(-0.7,-1.5),(1.6,-0.4),(0.4,-2.6)],
    "T": [(-1.8,-0.5),(-1.4,-0.6),(-1.2,-1.0),(-0.7,-1.5),(-0.3,-2.1),(0.1,-2.4),(0.4,-2.6),(0.7,-2.8),(0.2,-2.9),(-0.6,-2.3),(-1.6,-0.8),(0.7,-2.1)],
    "B": [(-3.0,-0.1),(-2.2,-1.8),(-1.9,-1.8),(-1.7,-2.0),(-2.1,-2.6),(-0.9,-2.8),(-0.7,-2.9),(-1.3,-2.9),(-1.1,-2.2)],
    "L": [(0.0,1.9),(0.3,1.6),(0.5,1.5),(1.0,0.1),(1.2,-0.1),(1.5,-0.2),(1.6,-0.7),(2.9,-1.3),(1.0,0.0)],
    "D": [(0.3,2.2),(1.0,0.4),(1.4,0.4),(1.7,0.3)],
}
SPEI_SWE_P2_MARKS = [(1,2,0.0,-0.4),(13,2,0.1,-0.7),(9,2,0.3,-0.8),(1,2,0.5,-0.9),(6,2,0.2,-1.2),(15,2,0.6,-1.4),(7,2,0.0,-0.8),(13,1,-1.0,-1.3),(1,1,-0.8,-1.6),(9,1,-0.6,-1.8),(6,1,-0.5,-1.9),(13,1,-0.4,-2.0),(10,2,-2.2,-1.3),(1,0,-1.0,-2.7),(13,0,-0.8,-2.7),(9,0,-1.2,-2.6),(1,2,-1.6,-2.6),(6,2,-1.1,-2.3),(13,3,0.8,0.0),(1,3,1.0,0.0),(15,3,1.0,1.2),(6,3,1.4,-0.6),(1,3,1.3,-0.5),(5,3,0.6,0.75),(1,4,1.6,0.4),(10,4,0.3,1.9),(5,4,1.0,1.95),(4,4,2.9,1.75)]

SPEI_SWE_P4_DOTS = {
    "G": [(-0.4,-0.3),(-0.1,0.2),(0.1,-0.8),(0.3,-0.2),(0.4,-1.3),(0.5,0.4),(0.6,-0.7),(0.7,-1.8),(0.8,-0.3),(0.9,-1.1),(1.0,-2.3),(1.1,-0.6),(1.2,-1.6),(1.3,0.0),(1.4,-2.6),(1.5,-1.0),(1.6,-2.0),(1.7,-0.4),(1.8,-2.8),(1.9,-1.4),(2.0,-2.2),(2.2,-0.9),(2.4,-1.7),(2.6,-2.5),(0.2,-2.3),(0.6,-2.9),(2.3,-3.0),(1.0,0.2),(-0.2,-1.5),(2.6,-1.2)],
    "T": [(-1.5,-0.6),(-1.0,-0.5),(-1.0,-0.9),(-0.6,-1.1),(-0.4,-1.4),(-0.1,-1.6),(0.2,-1.9),(0.5,-2.2),(0.8,-2.5),(1.0,-2.7),(1.3,-2.9),(0.0,-2.5),(-0.6,-2.1),(-1.2,-0.5),(0.4,-2.8)],
    "B": [(-2.9,-2.3),(-2.4,-2.3),(-1.9,-2.5),(-1.6,-2.9),(-1.3,-2.8),(-1.0,-2.7),(-0.7,-2.9),(-0.4,-3.0),(-0.9,-2.4),(-1.3,-2.2),(-2.1,-2.7),(0.0,-2.9),(-0.2,-2.7),(-1.8,-3.0)],
    "L": [(2.2,-1.1)],
}
SPEI_SWE_P4_MARKS = [(9,2,0.1,-0.4),(1,2,1.0,-1.1),(13,2,1.2,-1.4),(9,2,1.4,-1.5),(6,2,1.5,-1.8),(1,2,1.6,-1.6),(7,2,0.8,-1.4),(1,1,0.3,-2.0),(13,1,0.5,-2.1),(9,1,0.7,-2.2),(1,1,0.8,-2.6),(6,1,1.0,-2.6),(1,0,-0.6,-2.7),(13,0,-0.5,-2.9),(9,0,-0.3,-2.8),(4,3,1.5,0.35),(1,3,2.2,-1.1),(1,4,2.7,-2.1)]

SPEI_EE_HIST_DOTS = {
    "G": [(-1.6,1.3),(-1.5,0.4),(-1.3,0.9),(-1.2,-0.3),(-1.0,1.6),(-0.9,0.6),(-0.8,-0.6),(-0.7,0.2),(-0.6,1.1),(-0.5,-0.2),(-0.4,0.7),(-0.3,1.8),(-0.2,-0.9),(-0.1,0.4),(0.0,-0.4),(0.1,1.2),(0.2,-1.1),(0.3,0.1),(0.4,-0.6),(0.5,0.7),(0.6,-1.2),(0.8,-0.3),(0.9,-0.8),(1.1,-1.1),(1.3,-0.5),(-1.0,-1.0),(-0.2,2.1),(0.7,0.4),(1.4,-1.3),(-0.6,-1.3)],
    "T": [(-2.0,-0.6),(-1.7,-0.6),(-1.2,-0.8),(-1.0,-0.5),(-0.1,-1.5),(0.3,-1.7),(0.6,-1.8),(0.7,-1.9),(0.0,-2.0),(-0.6,-0.8),(-1.5,-0.6)],
    "B": [(-2.4,-1.6),(-1.8,-1.4),(-1.5,-2.0),(-1.4,-2.45),(-0.7,-2.2)],
    "L": [(-0.3,2.0),(-0.1,2.3),(0.0,1.8),(0.5,1.3),(0.7,1.0),(1.0,0.5),(1.3,0.3),(1.2,1.1),(1.6,0.0),(1.3,1.6),(0.8,1.3)],
    "D": [(-0.3,2.8),(0.0,2.6),(0.3,2.6),(1.2,2.4),(0.9,1.9),(2.1,2.1),(2.9,-1.05)],
}
SPEI_EE_HIST_MARKS = [(1,2,-0.2,0.1),(13,2,-0.1,-0.1),(7,2,0.0,-0.2),(9,2,-0.2,-0.2),(1,2,0.0,0.0),(15,2,-0.1,-0.4),(13,1,-1.3,-1.0),(1,1,-1.1,-1.0),(9,1,-0.6,-1.2),(13,1,-0.4,-1.4),(1,1,-0.2,-1.5),(6,1,0.0,-1.7),(13,0,-2.8,-1.05),(1,0,-2.1,-1.5),(9,0,-1.7,-1.2),(1,0,-1.3,-2.05),(13,0,-2.4,-2.05),(9,2,0.2,1.9),(1,3,0.0,1.5),(13,3,0.3,1.3),(1,3,0.6,1.0),(9,3,0.9,0.4),(1,3,1.5,0.1),(4,4,0.5,2.9),(13,4,0.6,2.3),(1,4,1.0,2.0),(11,4,1.0,2.3),(7,4,1.8,0.2),(13,2,1.4,1.3),(1,2,1.5,1.4)]

SPEI_EE_P2_DOTS = {
    "G": [(-2.0,1.6),(-1.5,0.9),(-1.3,0.1),(-1.1,0.6),(-0.9,-0.4),(-0.7,1.1),(-0.6,0.2),(-0.4,-0.8),(-0.3,0.6),(-0.2,1.4),(-0.1,-0.2),(0.0,-1.2),(0.1,0.4),(0.2,-0.6),(0.3,1.0),(0.4,-1.5),(0.5,0.0),(0.6,-0.9),(0.7,-2.0),(0.8,-0.4),(0.9,0.6),(1.0,-1.3),(1.2,-0.7),(1.4,-1.8),(1.6,-0.3),(1.8,-1.2),(2.1,-2.3),(2.3,-1.5),(1.2,-2.6),(-0.8,-1.2)],
    "T": [(-2.5,0.2),(-2.2,-1.0),(-1.5,-0.6),(-1.2,-0.8),(-1.0,-1.1),(-0.7,-1.5),(-0.2,-2.0),(0.0,-2.3),(0.3,-2.5),(0.6,-2.8),(-0.8,-2.2),(1.0,-2.8),(-0.4,-0.5),(0.6,-2.0)],
    "B": [(-2.4,-1.6),(-2.0,-2.1),(-1.6,-2.2),(-1.4,-2.6),(-1.2,-2.9),(-0.6,-2.8),(-0.2,-2.9),(-1.7,-2.8)],
    "L": [(0.1,2.0),(0.7,0.6),(0.9,0.5),(1.4,0.8),(2.7,-1.5),(0.5,1.5)],
    "D": [(0.3,2.9),(0.6,1.8),(1.0,1.8),(1.4,1.1),(2.2,2.4),(2.2,0.1)],
}
SPEI_EE_P2_MARKS = [(1,2,0.2,-0.3),(13,2,0.4,-0.5),(9,2,0.5,-0.8),(1,2,0.6,-1.0),(6,2,0.8,-1.1),(7,2,0.1,0.1),(13,2,0.7,-0.9),(1,1,-0.6,-1.5),(13,1,-0.4,-1.6),(9,1,-0.2,-1.7),(6,1,0.0,-1.9),(1,1,-1.1,-2.1),(13,0,-1.1,-2.2),(1,0,-0.9,-2.5),(9,0,-0.4,-2.7),(6,0,-1.2,-2.7),(1,3,0.75,0.5),(6,3,1.5,0.6),(15,3,1.8,-0.25),(5,3,0.3,2.1),(6,4,0.3,2.5),(1,4,1.0,2.1),(13,4,1.5,1.3),(4,2,2.2,1.25)]

SPEI_EE_P4_DOTS = {
    "G": [(-1.0,0.0),(-0.6,-0.4),(-0.4,0.3),(-0.2,-1.0),(0.0,-0.3),(0.1,-1.6),(0.3,0.1),(0.4,-0.8),(0.5,-2.0),(0.6,-0.5),(0.7,-1.3),(0.8,-2.4),(0.9,0.0),(1.0,-1.0),(1.1,-1.9),(1.2,-0.6),(1.3,-2.7),(1.4,-1.4),(1.5,-0.2),(1.6,-2.1),(1.8,-1.0),(2.0,-2.6),(2.2,-1.6),(0.2,-2.8),(-0.3,-2.0),(1.8,-3.0),(2.4,-2.9),(0.6,0.2),(1.9,-0.6),(-0.1,-2.6)],
    "T": [(-2.4,-0.1),(-1.0,-0.9),(-0.6,-1.1),(-0.3,-1.2),(-0.1,-1.5),(0.2,-1.8),(0.5,-2.1),(0.8,-2.4),(1.2,-2.8),(1.5,-3.0),(2.3,-3.0),(-0.5,-2.2),(0.0,-2.5),(0.3,-0.9),(0.9,-3.0)],
    "B": [(-2.6,-2.6),(-2.2,-2.7),(-1.8,-1.9),(-1.6,-2.4),(-1.3,-2.7),(-1.0,-2.9),(-0.7,-3.0),(-0.4,-2.8),(-0.2,-3.0),(-1.5,-3.0),(-0.9,-2.5),(-1.9,-3.0),(-2.3,-3.0),(0.2,-3.0),(0.5,-2.9),(-0.6,-2.6),(-1.1,-2.2),(-1.7,-2.8)],
}
SPEI_EE_P4_MARKS = [(9,2,0.2,-0.8),(1,2,0.4,-1.0),(13,2,0.7,-1.1),(9,2,0.9,-1.3),(1,2,1.1,-1.5),(15,2,1.0,-1.7),(7,2,0.6,-1.4),(1,1,-0.2,-1.7),(13,1,0.0,-1.9),(9,1,0.2,-2.1),(7,1,0.3,-2.3),(1,1,0.1,-2.0),(1,0,-0.9,-2.6),(13,0,-0.6,-2.8),(9,0,-0.3,-2.9),(1,0,-0.5,-2.7)]

# ---------------- styling ----------------
FONT = "Liberation Sans"
PW, PH = 134.7, 131
GAP_W = 35
XDOM = [-3.16, 3.32]
YDOM = [-3.3, 3.03]
PENT = "M0,-1L0.95,-0.31L0.59,0.81L-0.59,0.81L-0.95,-0.31Z"
STAR = "M0,-1L0.24,-0.33L0.95,-0.31L0.38,0.12L0.59,0.81L0,0.4L-0.59,0.81L-0.38,0.12L-0.95,-0.31L-0.24,-0.33Z"
THIN = "M0,-1L0.55,0L0,1L-0.55,0Z"
XSHP = "M-0.7,-1L0,-0.3L0.7,-1L1,-0.7L0.3,0L1,0.7L0.7,1L0,0.3L-0.7,1L-1,0.7L-0.3,0L-1,-0.7Z"
OCT = "M-0.41,-1L0.41,-1L1,-0.41L1,0.41L0.41,1L-0.41,1L-1,0.41L-1,-0.41Z"
SHAPE_OF = {"1": "circle", "5": "triangle-up", "7": PENT, "9": "diamond", "11": "cross", "13": OCT,
            "4": "triangle-down", "6": "square", "8": STAR, "10": THIN, "12": XSHP, "15": "circle"}

COLOR_SCALE = alt.Scale(type="quantize", domain=[0, 5], range=CAT_COLORS, nice=False, zero=False)
LABEL_EXPR = "[" + ",".join("'" + t + "'" for t in CAT_EDGES) + "][datum.value]"
COLOR_LEGEND = alt.Legend(
    type="gradient", orient="none", legendX=95, legendY=668, direction="horizontal",
    gradientLength=203, gradientThickness=12.5, values=[0, 1, 2, 3, 4, 5], labelExpr=LABEL_EXPR,
    labelAlign="center", labelOverlap=False, labelFontSize=13, labelColor="#333",
    gradientStrokeColor="#333", gradientStrokeWidth=1,
    title="Sep. SPI12", titleOrient="bottom", titleAnchor="middle", titleFontSize=17,
    titleFontWeight="normal", titleColor="#555")
SHAPE_SCALE = alt.Scale(domain=MEMBER_ORDER, range=[SHAPE_OF[m] for m in MEMBER_ORDER])
SHAPE_LEGEND = alt.Legend(
    title="Ensemble member:", orient="none", legendX=514, legendY=669, columns=6,
    symbolFillColor="#8c8c8c", symbolStrokeColor="black", symbolStrokeWidth=1, symbolSize=45,
    labelFontSize=13.5, labelColor="#555", labelOffset=9, columnPadding=24, rowPadding=-1,
    titleFontSize=17, titleFontWeight="normal", titleColor="#555", titleAnchor="middle", titlePadding=0)


def dots_frame(d):
    rows = []
    for key in ["G", "B", "T", "L", "D"]:
        for x, y in d.get(key, []):
            rows.append({"x": x, "y": y, "cat": CAT_KEYS[key]})
    return pd.DataFrame(rows)


def marks_frame(m):
    return pd.DataFrame([{"member": str(a), "cat": c, "x": x, "y": y} for a, c, x, y in m])


def panel(block, r, c):
    name = f"{block}_{REG_CODES[r]}_{PER_CODES[c]}"
    dots = globals()[name + "_DOTS"]
    marks = globals()[name + "_MARKS"]
    show_x = r == 3
    show_y = c == 0
    xax = alt.Axis(values=AXIS_TICKS, labels=show_x)
    yax = alt.Axis(values=AXIS_TICKS, labels=show_y)
    xs = alt.Scale(domain=XDOM, nice=False, zero=False)
    ys = alt.Scale(domain=YDOM, nice=False, zero=False)
    if show_x:
        xenc = alt.X("x:Q", scale=xs, axis=xax, title=f"Mar. {block}6")
    else:
        xenc = alt.X("x:Q", scale=xs, axis=xax, title=None)
    if show_y:
        yenc = alt.Y("y:Q", scale=ys, axis=yax, title=f"Sep. {block}6")
    else:
        yenc = alt.Y("y:Q", scale=ys, axis=yax, title=None)
    color = alt.Color("cat:Q", scale=COLOR_SCALE, legend=COLOR_LEGEND)
    base = alt.Chart(dots_frame(dots))
    d_grey = base.transform_filter("datum.cat == 2").mark_circle(size=22, opacity=1).encode(
        x=xenc, y=yenc, color=color)
    d_col = base.transform_filter("datum.cat != 2").mark_circle(size=16, opacity=1).encode(
        x=xenc, y=yenc, color=color)
    m = alt.Chart(marks_frame(marks)).mark_point(
        filled=True, size=40, stroke="black", strokeWidth=0.6, opacity=1
    ).encode(x=xenc, y=yenc, color=color,
             shape=alt.Shape("member:N", scale=SHAPE_SCALE, legend=SHAPE_LEGEND))
    ch = alt.layer(d_grey, d_col, m).properties(width=PW, height=PH)
    if c == 0:
        ch = ch.properties(title=alt.Title(REGIONS[r], anchor="start", frame="group", dx=-26, fontSize=14,
                                           fontStyle="italic", fontWeight="normal", color="#555", offset=1))
    return ch


def header(block, c):
    df = pd.DataFrame({"v": [0.5]})
    enc = {"x": alt.X("v:Q", scale=alt.Scale(domain=[0, 1]),
                      axis=alt.Axis(orient="top", title=PERIODS[c], titleFontSize=19, titleColor="#555",
                                    titleFontWeight="normal", titlePadding=1, labels=False, ticks=False,
                                    domain=False, grid=False))}
    if c == 0:
        enc["y"] = alt.Y("v:Q", scale=alt.Scale(domain=[0, 1]),
                         axis=alt.Axis(title=block, titleAngle=0, titleAlign="left",
                                       titleBaseline="alphabetic", titleX=-36, titleY=-5,
                                       titleFontSize=20, titleFontWeight="bold", titleColor="black",
                                       labels=False, ticks=False, domain=False, grid=False))
    return alt.Chart(df).mark_point(opacity=0).encode(**enc).properties(
        width=PW, height=1, view=alt.ViewBackground(stroke="transparent"))


def spacer():
    return alt.Chart(pd.DataFrame({"h": [""]})).mark_text(opacity=0).encode(text="h:N").properties(
        width=GAP_W, height=1, view=alt.ViewBackground(stroke="transparent"))


cells = [header("SPI", c) for c in range(3)] + [spacer()] + [header("SPEI", c) for c in range(3)]
for r in range(4):
    cells += [panel("SPI", r, c) for c in range(3)] + [spacer()] + [panel("SPEI", r, c) for c in range(3)]

chart = alt.concat(
    *cells, columns=7, spacing={"row": 24.3, "column": 3.5}, bounds="flush"
).resolve_scale(
    color="shared", shape="shared"
).properties(
    padding={"left": 4, "top": -4, "right": 0, "bottom": 0}
).configure(font=FONT).configure_axis(
    labelFontSize=12.5, labelColor="#333", titleFontSize=14.5, titleFontWeight="normal",
    titleColor="#1a1a1a", tickColor="#333", tickSize=3.5, tickWidth=1, domain=False,
    gridColor="#d2d2d2", gridWidth=1, labelPadding=1, titlePadding=2
).configure_view(stroke="#4a4a4a", strokeWidth=1.3)

chart.save("out.html", embed_options={"renderer": "svg", "actions": False})
